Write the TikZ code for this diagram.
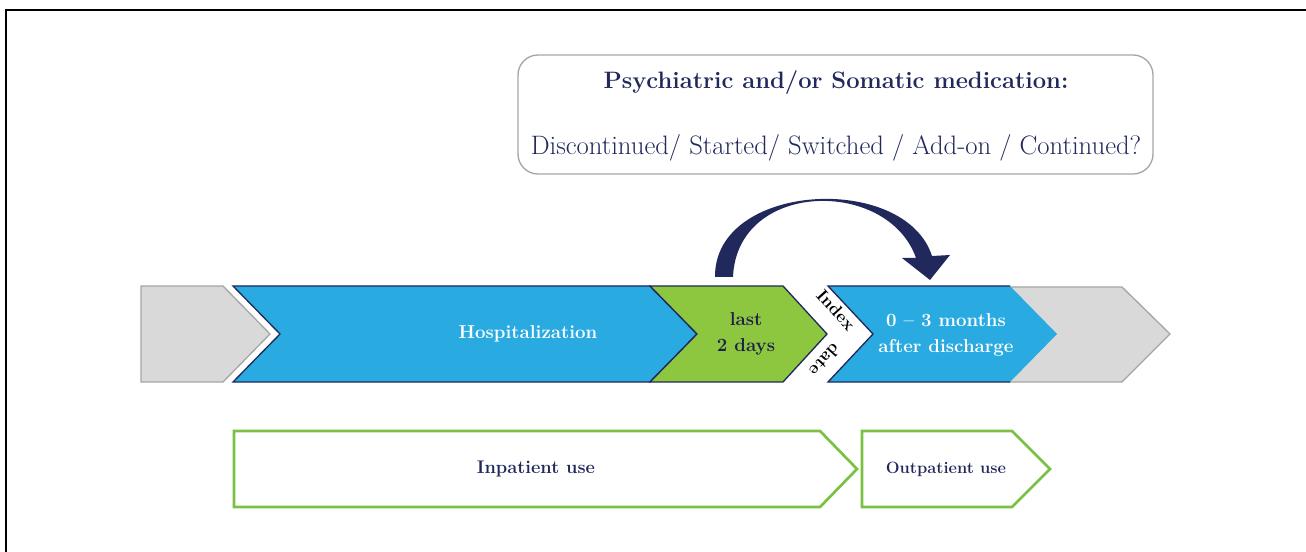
\documentclass[tikz,border=0pt]{standalone}
\usepackage{fontspec}
\usepackage{tikz}
\usetikzlibrary{positioning}

\definecolor{navy}{RGB}{33,41,92}
\definecolor{skyblue}{RGB}{41,171,226}
\definecolor{limegreen}{RGB}{141,198,63}
\definecolor{boxgreen}{RGB}{122,192,67}
\definecolor{lightgray}{RGB}{217,217,217}
\definecolor{edgegray}{RGB}{166,166,166}

\tikzset{
  phasetext/.style={inner sep=0.75pt, align=center, font=\fontsize{14}{19}\selectfont\bfseries},
  usetext/.style={inner sep=0.75pt, text=navy, font=\fontsize{13.7}{15}\selectfont\bfseries},
}

\begin{document}
\begin{tikzpicture}[x=0.75pt,y=0.75pt,yscale=-1,xscale=1]
        \useasboundingbox (0,0) rectangle (1306,552);
        %Frame
        \draw [line width=1.2pt] (6,552) -- (6,10) -- (1306,10) ;
        %Shape: Rounded Rectangle [id:box]
        \draw [draw=edgegray, line width=1pt, rounded corners=15pt] (518,55) rectangle (1153,174) ;
        % Text Node
        \node [inner sep=0.75pt, text=navy, font=\fontsize{17.8}{20}\selectfont\bfseries] (medtitle) at (836,83) {Psychiatric and/or Somatic medication:};
        % Text Node
        \node [inner sep=0.75pt, text=navy, font=\fontsize{20}{23}\selectfont] (medoptions) at (836,148) {Discontinued/ Started/ Switched / Add-on / Continued?};
        %Shape: Chevron [id:before]
        \draw [draw=edgegray, fill=lightgray, line width=1pt] (141,286) -- (223,286) -- (270,334) -- (223,382) -- (141,382) -- cycle ;
        %Shape: Chevron [id:hosp]
        \draw [draw=navy, fill=skyblue, line width=1pt] (233,286) -- (650,286) -- (697,334) -- (650,382) -- (233,382) -- (280,334) -- cycle ;
        %Shape: Chevron [id:last]
        \draw [draw=navy, fill=limegreen, line width=1pt] (650,286) -- (783,286) -- (827,334) -- (783,382) -- (650,382) -- (697,334) -- cycle ;
        %Shape: Chevron [id:after]
        \draw [draw=edgegray, fill=lightgray, line width=1pt] (1010,287) -- (1122,287) -- (1170,334) -- (1122,382) -- (1010,382) -- cycle ;
        %Shape: Chevron [id:post]
        \fill [skyblue] (828,286) -- (1010,286) -- (1057,334) -- (1010,382) -- (828,382) -- (873,334) -- cycle ;
        \draw [navy, line width=1pt] (1010,286) -- (828,286) -- (873,334) -- (828,382) -- (1010,382) ;
        % Text Node
        \node [phasetext, text=white] (hosp) at (528,334) {Hospitalization};
        % Text Node
        \node [phasetext, text=navy!80!black] (lastdays) at (746,334) {last\\2 days};
        % Text Node
        \node [phasetext, text=white] (postdays) at (946,335) {0 -- 3 months\\after discharge};
        % Text Node
        \node [inner sep=0pt, rotate=-48, font=\fontsize{13}{13}\selectfont\bfseries] (indexlbl) at (836,310) {Index};
        % Text Node
        \node [inner sep=0pt, rotate=-132, font=\fontsize{13}{13}\selectfont\bfseries] (datelbl) at (825,360) {date};
        %Curve Arrow
        \fill [navy] (715,277) .. controls (714,182) and (905,172) .. (932,256) -- (950,255) -- (930,280) -- (902,258) -- (916,258) .. controls (888,178) and (737,180) .. (733,277) -- cycle ;
        %Shape: Chevron [id:inpatient]
        \draw [draw=boxgreen, line width=2pt] (234,431) -- (820,431) -- (857,469) -- (820,507) -- (234,507) -- cycle ;
        %Shape: Chevron [id:outpatient]
        \draw [draw=boxgreen, line width=2pt] (862,431) -- (1012,431) -- (1050,469) -- (1012,507) -- (862,507) -- cycle ;
        % Text Node
        \node [usetext] (inpat) at (536,469) {Inpatient use};
        % Text Node
        \node [usetext, font=\fontsize{12.3}{13}\selectfont\bfseries] (outpat) at (946,469) {Outpatient use};
\end{tikzpicture}
\end{document}
